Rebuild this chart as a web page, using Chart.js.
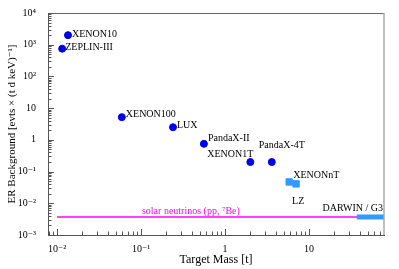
<!DOCTYPE html>
<html>
<head>
    <title>ER Background vs Target Mass</title>
    <script src="https://cdn.jsdelivr.net/npm/chart.js"></script>
    <style>
        body { margin: 0; background: #fff; }
        #wrap { width: 399px; height: 269px; }
    </style>
</head>
<body>
    <div id="wrap"><canvas id="myChart" width="399" height="269"></canvas></div>
    <script>
        // current / past experiments (blue circles)
        const experiments = ['XENON10', 'ZEPLIN-III', 'XENON100', 'LUX', 'PandaX-II', 'XENON1T', 'PandaX-4T'];
        const targetMass = [0.0135, 0.0115, 0.059, 0.24, 0.56, 2.0, 3.6];
        const erBackground = [2000, 750, 5.2, 2.5, 0.75, 0.2, 0.2];

        // projected experiments (light blue squares)
        const futureExperiments = ['XENONnT', 'LZ'];
        const futureMass = [5.8, 7.0];
        const futureBackground = [0.047, 0.041];

        // solar neutrino floor and DARWIN / G3 band
        const solarNuBackground = 0.0037;
        const solarMassRange = [0.01, 78];
        const darwinMassRange = [37, 78];

        const xRange = [0.0078, 78];
        const yRange = [0.001, 10000];
        const xTickValues = [0.01, 0.1, 1, 10];
        const xTickLabels = ['10\u207B\u00B2', '10\u207B\u00B9', '1', '10'];
        const yTickValues = [0.001, 0.01, 0.1, 1, 10, 100, 1000, 10000];
        const yTickLabels = ['10\u207B\u00B3', '10\u207B\u00B2', '10\u207B\u00B9', '1', '10', '10\u00B2', '10\u00B3', '10\u2074'];

        // label placement relative to the marker (pixels)
        const labelOffsets = {
            'XENON10':    [4, -1, 'left'],
            'ZEPLIN-III': [3, -1, 'left'],
            'XENON100':   [4, -3, 'left'],
            'LUX':        [4, -2, 'left'],
            'PandaX-II':  [4, -5, 'left'],
            'XENON1T':    [3, -8, 'right'],
            'PandaX-4T':  [-13, -17, 'left'],
            'XENONnT':    [4, -7, 'left'],
            'LZ':         [-4, 18, 'left']
        };

        const serif = "'Liberation Serif', 'DejaVu Serif', serif";

        const framePlugin = {
            id: 'frame',
            afterDraw(chart) {
                const ctx = chart.ctx;
                const a = chart.chartArea;
                const xs = chart.scales.x, ys = chart.scales.y;
                ctx.save();
                // top and right frame
                ctx.strokeStyle = '#666';
                ctx.lineWidth = 1;
                ctx.beginPath();
                ctx.moveTo(a.left, a.top + 0.5);
                ctx.lineTo(a.right, a.top + 0.5);
                ctx.stroke();
                ctx.strokeStyle = '#aaa';
                ctx.lineWidth = 1.5;
                ctx.beginPath();
                ctx.moveTo(a.right, a.top);
                ctx.lineTo(a.right, a.bottom);
                ctx.stroke();

                // inward tick marks, majors on decades, minors on 2..9
                ctx.strokeStyle = '#555';
                ctx.lineWidth = 1;
                const decadeTicks = (min, max, cb) => {
                    for (let e = Math.floor(Math.log10(min)); e <= Math.ceil(Math.log10(max)); e++) {
                        for (let m = 1; m < 10; m++) {
                            const v = m * Math.pow(10, e);
                            if (v >= min && v <= max) cb(v, m === 1);
                        }
                    }
                };
                ctx.beginPath();
                decadeTicks(xRange[0], xRange[1], (v, major) => {
                    const px = Math.round(xs.getPixelForValue(v)) + 0.5;
                    ctx.moveTo(px, a.bottom);
                    ctx.lineTo(px, a.bottom - (major ? 6 : 3.5));
                });
                decadeTicks(yRange[0], yRange[1], (v, major) => {
                    const py = Math.round(ys.getPixelForValue(v)) + 0.5;
                    ctx.moveTo(a.left, py);
                    ctx.lineTo(a.left + (major ? 6 : 3.5), py);
                });
                ctx.stroke();

                // point labels
                ctx.font = '10px ' + serif;
                ctx.fillStyle = '#000';
                ctx.textBaseline = 'middle';
                const drawLabels = (names, meta) => {
                    names.forEach((name, i) => {
                        const p = meta.data[i];
                        const [dx, dy, align] = labelOffsets[name];
                        ctx.textAlign = align;
                        ctx.fillText(name, p.x + dx, p.y + dy);
                    });
                };
                drawLabels(experiments, chart.getDatasetMeta(0));
                drawLabels(futureExperiments, chart.getDatasetMeta(1));

                // line annotations
                const ySolar = ys.getPixelForValue(solarNuBackground);
                ctx.textAlign = 'right';
                ctx.fillStyle = '#ff00ff';
                ctx.fillText('solar neutrinos (pp, \u2077Be)', xs.getPixelForValue(1.5), ySolar - 6);
                ctx.fillStyle = '#000';
                ctx.fillText('DARWIN / G3', a.right - 1, ySolar - 9);
                ctx.restore();
            }
        };

        const ctx = document.getElementById('myChart').getContext('2d');
        new Chart(ctx, {
            type: 'scatter',
            data: {
                datasets: [
                    {
                        label: 'experiments',
                        data: targetMass.map((m, i) => ({ x: m, y: erBackground[i] })),
                        backgroundColor: '#0000ee',
                        borderColor: '#0000ee',
                        pointRadius: 3.5,
                        pointStyle: 'circle'
                    },
                    {
                        label: 'projected',
                        data: futureMass.map((m, i) => ({ x: m, y: futureBackground[i] })),
                        backgroundColor: '#3399ff',
                        borderColor: '#3399ff',
                        pointRadius: 4.5,
                        pointStyle: 'rect'
                    },
                    {
                        label: 'solar neutrinos',
                        type: 'line',
                        data: solarMassRange.map(m => ({ x: m, y: solarNuBackground })),
                        borderColor: '#ff00ff',
                        borderWidth: 1.5,
                        pointRadius: 0,
                        order: 3
                    },
                    {
                        label: 'DARWIN / G3',
                        type: 'line',
                        data: darwinMassRange.map(m => ({ x: m, y: solarNuBackground })),
                        borderColor: '#3399ff',
                        borderWidth: 5,
                        borderCapStyle: 'butt',
                        pointRadius: 0,
                        order: 2
                    }
                ]
            },
            options: {
                responsive: false,
                animation: false,
                layout: { padding: { top: 13, right: 15, left: 0, bottom: 0 } },
                plugins: { legend: { display: false }, tooltip: { enabled: false } },
                scales: {
                    x: {
                        type: 'logarithmic',
                        min: xRange[0],
                        max: xRange[1],
                        afterFit(scale) { scale.height = 34; },
                        afterBuildTicks(scale) { scale.ticks = xTickValues.map(v => ({ value: v })); },
                        grid: { display: false },
                        border: { display: true, color: '#555', width: 1 },
                        ticks: {
                            autoSkip: false,
                            maxRotation: 0,
                            padding: 0,
                            color: '#000',
                            font: { family: serif, size: 10 },
                            callback: (v) => xTickLabels[xTickValues.indexOf(v)]
                        },
                        title: {
                            display: true,
                            text: 'Target Mass [t]',
                            color: '#000',
                            font: { family: serif, size: 12 },
                            padding: { top: 0, bottom: 2 }
                        }
                    },
                    y: {
                        type: 'logarithmic',
                        min: yRange[0],
                        max: yRange[1],
                        afterFit(scale) { scale.width = 48; },
                        afterBuildTicks(scale) { scale.ticks = yTickValues.map(v => ({ value: v })); },
                        grid: { display: false },
                        border: { display: true, color: '#555', width: 1 },
                        ticks: {
                            autoSkip: false,
                            padding: 4,
                            color: '#000',
                            font: { family: serif, size: 10 },
                            callback: (v) => yTickLabels[yTickValues.indexOf(v)]
                        },
                        title: {
                            display: true,
                            text: 'ER Background [evts \u00D7 (t d keV)\u207B\u00B9]',
                            color: '#000',
                            font: { family: serif, size: 11 },
                            padding: { top: 6, bottom: 0 }
                        }
                    }
                }
            },
            plugins: [framePlugin]
        });
    </script>
</body>
</html>
